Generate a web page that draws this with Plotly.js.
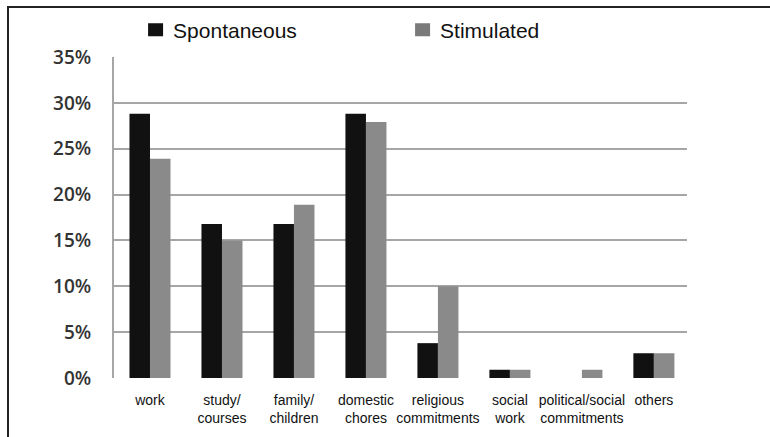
<!DOCTYPE html>
<html>
<head>
<meta charset="utf-8">
<script src="https://cdn.plot.ly/plotly-3.0.1.min.js"></script>
<style>
html,body{margin:0;padding:0;background:#fff;}
#wrap{position:relative;width:770px;height:437px;}
#chart{position:absolute;left:0;top:0;width:770px;height:437px;}
#frame{position:absolute;left:7px;top:6px;width:763px;height:431px;border-left:2px solid #222;border-top:2px solid #222;pointer-events:none;box-sizing:border-box;}
</style>
</head>
<body>
<div id="wrap"><div id="chart"></div><div id="frame"></div></div>
<script>
const categories = ["work", "study/<br>courses", "family/<br>children", "domestic<br>chores", "religious<br>commitments", "social<br>work", "political/social<br>commitments", "others"];
const spontaneous = [28.8, 16.8, 16.8, 28.8, 3.8, 0.9, 0, 2.7];
const stimulated = [23.9, 15.0, 18.9, 27.9, 10.0, 0.9, 0.9, 2.7];
const yTickVals = [0, 5, 10, 15, 20, 25, 30, 35];
const yTickText = ["0%", "5%", "10%", "15%", "20%", "25%", "30%", "35%"];

const traces = [
  {type: "bar", name: "Spontaneous", x: categories, y: spontaneous, marker: {color: "#111111"}, hoverinfo: "y"},
  {type: "bar", name: "Stimulated", x: categories, y: stimulated, marker: {color: "#8a8a8a"}, hoverinfo: "y"}
];

const layout = {
  width: 770, height: 437,
  margin: {l: 114, r: 83, t: 57, b: 59, pad: 0, autoexpand: false},
  paper_bgcolor: "#ffffff", plot_bgcolor: "#ffffff",
  barmode: "group", bargap: 0.43, bargroupgap: 0,
  font: {family: "Liberation Sans, Arial, sans-serif", color: "#111"},
  showlegend: true,
  legend: {
    orientation: "h", x: 0.0333, xanchor: "left", y: 1.084, yanchor: "middle",
    font: {size: 21, color: "#111", family: "Liberation Sans, Arial, sans-serif"},
    entrywidth: 222, entrywidthmode: "pixels", bgcolor: "rgba(0,0,0,0)", traceorder: "normal"
  },
  xaxis: {
    type: "category", range: [-0.5, 7.46], showgrid: false, zeroline: false,
    showline: false, ticks: "", tickangle: 0,
    tickfont: {size: 14, color: "#111", family: "Liberation Sans, Arial, sans-serif"},
    ticklabelstandoff: 12, fixedrange: true
  },
  yaxis: {
    range: [0, 35], tickvals: yTickVals, ticktext: yTickText,
    showgrid: true, gridcolor: "#a6a6a6", gridwidth: 2,
    zeroline: false, showline: true, linecolor: "#a6a6a6", linewidth: 2,
    ticks: "", tickfont: {size: 19, color: "#333", family: "Open Sans, sans-serif", weight: 600},
    ticklabelstandoff: 17, fixedrange: true
  }
};

Plotly.newPlot("chart", traces, layout, {displayModeBar: false, staticPlot: true}).then(function(gd){
  const cols = ["#111111", "#7a7a7a"];
  gd.querySelectorAll(".legend .legendpoints path").forEach(function(p, i){
    p.setAttribute("d", "M7.5,6.5H-7.5V-6.5H7.5Z");
    p.setAttribute("transform", "translate(22.5,0)");
    p.style.stroke = "none";
    p.style.fill = cols[i] || p.style.fill;
  });
});
</script>
</body>
</html>
